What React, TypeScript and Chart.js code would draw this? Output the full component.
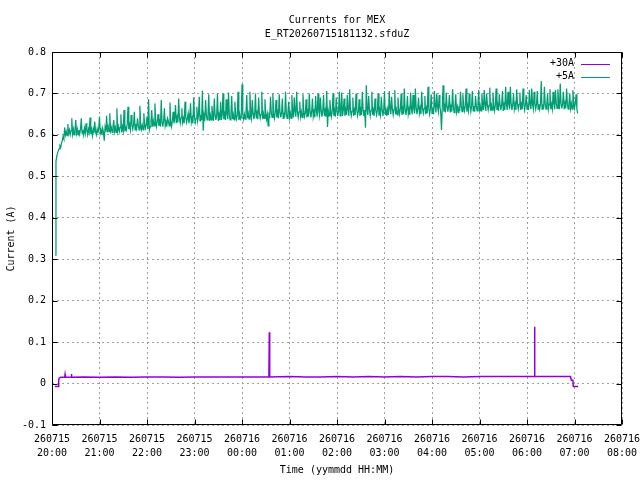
import React, { useEffect, useRef } from 'react';
import { Chart, registerables } from 'chart.js';

Chart.register(...registerables);

const FONT = 'DejaVu Sans Mono';

// +5A current in mA, one sample per minute starting at 20:04
const FIVE_A_START_MIN = 4;
const FIVE_A_STEP_MIN = 1;
const FIVE_A_MA = [
    310, 536, 548, 556, 562, 566, 574, 570, 580, 586, 596, 590, 618, 600, 608, 598, 626, 604, 612, 600, 610, 640, 602, 614, 600, 612, 636, 604, 614, 600,
    612, 602, 614, 640, 604, 612, 600, 616, 604, 628, 610, 600, 614, 606, 642, 602, 612, 598, 614, 604, 632, 608, 600, 614, 604, 616, 644, 604, 612, 600,
    616, 606, 586, 618, 608, 646, 606, 620, 608, 652, 610, 618, 606, 620, 636, 608, 618, 606, 664, 610, 620, 608, 618, 650, 606, 620, 610, 660, 608, 618,
    612, 626, 668, 614, 624, 612, 648, 626, 614, 624, 656, 612, 626, 616, 640, 624, 612, 670, 626, 614, 624, 612, 652, 626, 616, 624, 644, 614, 686, 612,
    620, 632, 660, 620, 634, 622, 676, 632, 620, 634, 650, 622, 632, 620, 684, 630, 620, 634, 664, 622, 632, 620, 640, 634, 622, 678, 630, 620, 634, 656,
    628, 640, 672, 628, 642, 630, 688, 640, 628, 642, 664, 630, 640, 628, 680, 642, 630, 640, 652, 628, 642, 676, 630, 640, 628, 690, 642, 630, 640, 668,
    634, 646, 692, 634, 648, 636, 707, 610, 646, 634, 684, 648, 636, 646, 698, 634, 648, 636, 670, 646, 634, 688, 648, 636, 646, 700, 634, 648, 636, 680,
    636, 650, 700, 638, 650, 636, 686, 650, 638, 702, 648, 636, 650, 694, 638, 650, 636, 680, 650, 638, 648, 704, 636, 650, 638, 642, 722, 650, 638, 650,
    638, 652, 696, 640, 652, 638, 704, 652, 640, 684, 652, 638, 650, 700, 640, 652, 638, 690, 652, 640, 650, 704, 638, 652, 640, 686, 652, 638, 650, 622,
    654, 640, 692, 654, 642, 700, 652, 640, 654, 684, 642, 654, 640, 698, 654, 642, 652, 688, 640, 654, 642, 704, 652, 640, 654, 680, 642, 654, 640, 696,
    656, 642, 690, 656, 644, 704, 656, 642, 656, 680, 644, 656, 642, 698, 656, 644, 654, 686, 642, 656, 644, 700, 656, 642, 656, 688, 644, 656, 642, 694,
    658, 644, 700, 658, 646, 690, 658, 644, 658, 696, 646, 658, 644, 706, 619, 658, 646, 684, 658, 644, 658, 700, 646, 658, 644, 690, 658, 646, 658, 704,
    646, 660, 702, 646, 660, 688, 646, 660, 648, 696, 660, 646, 710, 660, 646, 658, 690, 646, 660, 648, 700, 660, 646, 658, 686, 646, 660, 648, 704, 660,
    646, 660, 617, 720, 660, 648, 694, 660, 646, 660, 704, 648, 660, 646, 688, 660, 648, 660, 700, 646, 660, 648, 692, 660, 646, 660, 706, 648, 660, 646,
    662, 648, 706, 662, 650, 692, 662, 648, 662, 708, 650, 662, 648, 690, 662, 650, 662, 700, 648, 662, 650, 712, 662, 648, 662, 694, 650, 662, 648, 702,
    664, 650, 696, 664, 652, 712, 664, 650, 664, 690, 652, 664, 650, 704, 664, 652, 664, 694, 650, 664, 652, 716, 664, 650, 664, 698, 652, 664, 650, 706,
    668, 654, 700, 668, 656, 696, 668, 654, 612, 668, 720, 656, 668, 654, 702, 668, 656, 668, 696, 654, 668, 656, 710, 668, 654, 668, 698, 656, 668, 654,
    670, 658, 704, 670, 656, 698, 670, 658, 670, 712, 656, 670, 658, 700, 670, 656, 670, 706, 658, 670, 656, 694, 670, 658, 670, 708, 656, 670, 658, 700,
    672, 660, 708, 672, 658, 700, 672, 660, 672, 714, 658, 672, 660, 702, 672, 658, 672, 712, 660, 672, 658, 698, 672, 660, 672, 706, 658, 672, 660, 716,
    674, 660, 704, 674, 662, 716, 674, 660, 674, 700, 662, 674, 660, 710, 674, 662, 674, 702, 660, 674, 662, 712, 674, 660, 674, 696, 662, 674, 660, 708,
    674, 662, 712, 674, 662, 704, 674, 662, 674, 706, 662, 674, 662, 674, 730, 662, 674, 662, 716, 674, 662, 674, 700, 662, 674, 710, 662, 674, 662, 704,
    676, 662, 708, 676, 664, 710, 676, 662, 724, 676, 664, 676, 704, 662, 676, 664, 712, 676, 662, 676, 700, 664, 676, 662, 708, 676, 664, 676, 698, 662,
    652,
];

// +30A current: minutes after 20:00 and value in mA
const THIRTY_A_MIN = [
    3.5, 8, 8.5, 9, 11, 16, 16.5, 17, 24, 24.5, 25,
    40, 60, 80, 100, 120, 140, 160, 180, 200, 220, 240, 260,
    274, 274.5, 275,
    300, 320, 340, 360, 380, 400, 420, 440, 460, 480, 500, 520, 540, 560, 580, 600,
    609, 609.5, 610,
    630, 655, 656, 658, 658.5, 664.5,
];
const THIRTY_A_MA = [
    -7, -7, 8, 13, 15, 15, 22, 15, 15, 23, 15,
    16, 15, 16, 15, 16, 16, 15, 16, 16, 16, 16, 16,
    16, 124, 16,
    17, 16, 16, 17, 16, 17, 16, 17, 16, 17, 17, 16, 17, 17, 17, 17,
    17, 137, 17,
    17, 17, 8, 8, -7, -7,
];

const X_TICK_DATES = ['260715', '260715', '260715', '260715', '260716', '260716', '260716',
    '260716', '260716', '260716', '260716', '260716', '260716'];
const X_TICK_TIMES = ['20:00', '21:00', '22:00', '23:00', '00:00', '01:00', '02:00',
    '03:00', '04:00', '05:00', '06:00', '07:00', '08:00'];

// gnuplot-like frame with inward ticks on all four sides, plus the key inside the plot
const gnuFrame = {
    id: 'gnuFrame',
    afterDatasetsDraw(chart: any) {
        const { ctx, chartArea: a, scales } = chart;
        const L = Math.round(a.left) + 0.5;
        const R = Math.round(a.right) - 0.5;
        const T = Math.round(a.top) + 0.5;
        const B = Math.round(a.bottom) - 0.5;
        ctx.save();
        ctx.strokeStyle = '#000';
        ctx.lineWidth = 1;
        ctx.beginPath();
        ctx.rect(L, T, R - L, B - T);
        scales.x.ticks.forEach((t: any) => {
            const px = Math.round(scales.x.getPixelForValue(t.value)) + 0.5;
            ctx.moveTo(px, B); ctx.lineTo(px, B - 5);
            ctx.moveTo(px, T); ctx.lineTo(px, T + 5);
        });
        scales.y.ticks.forEach((t: any) => {
            const py = Math.round(scales.y.getPixelForValue(t.value)) + 0.5;
            ctx.moveTo(L, py); ctx.lineTo(L + 5, py);
            ctx.moveTo(R, py); ctx.lineTo(R - 5, py);
        });
        ctx.stroke();

        ctx.font = `10px "${FONT}"`;
        ctx.textAlign = 'right';
        ctx.textBaseline = 'middle';
        chart.data.datasets.forEach((ds: any, i: number) => {
            const y = a.top + 11.5 + i * 13.3;
            ctx.fillStyle = '#000';
            ctx.fillText(ds.label, a.right - 48, y);
            ctx.strokeStyle = ds.borderColor;
            ctx.beginPath();
            ctx.moveTo(a.right - 41, Math.round(y) + 0.5);
            ctx.lineTo(a.right - 12, Math.round(y) + 0.5);
            ctx.stroke();
        });
        ctx.restore();
    },
};

export default function App() {
    const canvasRef = useRef<HTMLCanvasElement | null>(null);

    useEffect(() => {
        if (!canvasRef.current) return;

        const fiveA = FIVE_A_MA.map((v, i) => ({ x: FIVE_A_START_MIN + i * FIVE_A_STEP_MIN, y: v / 1000 }));
        const thirtyA = THIRTY_A_MIN.map((m, i) => ({ x: m, y: THIRTY_A_MA[i] / 1000 }));
        const tickFont = { family: FONT, size: 10, lineHeight: 1.33 };

        const chart = new Chart(canvasRef.current, {
            type: 'line',
            data: {
                datasets: [
                    {
                        label: '+30A',
                        data: thirtyA,
                        borderColor: '#9400d3',
                        borderWidth: 1.5,
                        pointRadius: 0,
                        tension: 0,
                    },
                    {
                        label: '+5A',
                        data: fiveA,
                        borderColor: '#009e73',
                        borderWidth: 1.25,
                        pointRadius: 0,
                        tension: 0,
                    },
                ],
            },
            options: {
                responsive: true,
                maintainAspectRatio: false,
                animation: false,
                layout: { padding: 0 },
                scales: {
                    x: {
                        type: 'linear',
                        min: 0,
                        max: 720,
                        afterFit: (s: any) => {
                            s.height = 55;
                            s.paddingRight = 18;
                        },
                        grid: { color: '#a0a0a0', drawTicks: false },
                        border: { display: false, dash: [2, 3] },
                        ticks: {
                            stepSize: 60,
                            autoSkip: false,
                            maxRotation: 0,
                            padding: 8,
                            color: '#000',
                            font: tickFont,
                            callback: (v: any) => {
                                const i = Math.round(Number(v) / 60);
                                return [X_TICK_DATES[i], X_TICK_TIMES[i]];
                            },
                        },
                        title: {
                            display: true,
                            text: 'Time (yymmdd HH:MM)',
                            color: '#000',
                            font: tickFont,
                            padding: { top: 0, bottom: 2.5 },
                        },
                    },
                    y: {
                        type: 'linear',
                        min: -0.1,
                        max: 0.8,
                        afterFit: (s: any) => { s.width = 52; },
                        grid: { color: '#a0a0a0', drawTicks: false },
                        border: { display: false, dash: [2, 3] },
                        ticks: {
                            stepSize: 0.1,
                            padding: 6,
                            color: '#000',
                            font: tickFont,
                            callback: (v: any) => Number(Number(v).toFixed(1)).toString(),
                        },
                        title: {
                            display: true,
                            text: 'Current (A)',
                            color: '#000',
                            font: tickFont,
                            padding: { top: 5, bottom: 0 },
                        },
                    },
                },
                plugins: {
                    legend: { display: false },
                    tooltip: { enabled: false },
                    title: {
                        display: true,
                        fullSize: false,
                        text: ['Currents for MEX', 'E_RT20260715181132.sfduZ'],
                        color: '#000',
                        font: { family: FONT, size: 10, weight: 'normal', lineHeight: 1.33 },
                        padding: { top: 14, bottom: 11.4 },
                    },
                },
            },
            plugins: [gnuFrame],
        });

        return () => {
            chart.destroy();
        };
    }, []);

    return (
        <div style={{ position: 'absolute', left: 0, top: 0, width: 640, height: 480, background: '#fff' }}>
            <canvas ref={canvasRef}></canvas>
        </div>
    );
}
